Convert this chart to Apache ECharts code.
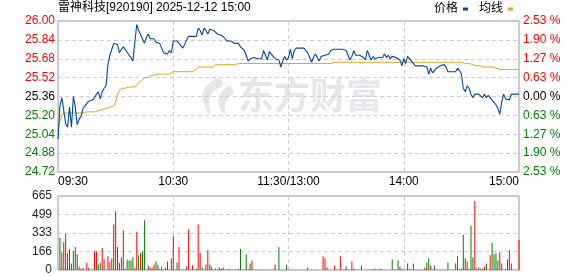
<!DOCTYPE html>
<html><head><meta charset="utf-8">
<script src="https://cdn.jsdelivr.net/npm/echarts@6/dist/echarts.min.js"></script>
<style>html,body{margin:0;padding:0;background:#fff}#c{width:578px;height:276px}</style>
</head><body><div id="c"></div>
<script>
const titleText = '雷神科技[920190] 2025-12-12 15:00';
const legendNames = ['价格', '均线'];
const watermarkText = '东方财富';
const priceTickLabels = ['24.72','24.88','25.04','25.20','25.36','25.52','25.68','25.84','26.00'];
const pctTickLabels = ['2.53 %','1.90 %','1.27 %','0.63 %','0.00 %','0.63 %','1.27 %','1.90 %','2.53 %'];
const volTickLabels = ['0','166','333','499','665'];
const timeTickLabels = ['09:30', '10:30', '11:30/13:00', '14:00', '15:00'];

const price = [
25.00,25.28,25.35,25.36,25.13,25.10,25.27,25.10,25.36,25.27,
25.12,25.17,25.19,25.26,25.28,25.29,25.32,25.33,25.33,25.35,
25.38,25.40,25.34,25.40,25.43,25.45,25.63,25.71,25.71,25.81,
25.81,25.80,25.73,25.76,25.78,25.76,25.75,25.71,25.69,25.66,
25.82,25.97,25.92,25.92,25.85,25.81,25.86,25.89,25.85,25.85,
25.85,25.82,25.81,25.81,25.80,25.73,25.73,25.72,25.75,25.73,
25.83,25.83,25.83,25.81,25.81,25.77,25.76,25.84,25.87,25.87,
25.87,25.87,25.87,25.94,25.92,25.88,25.94,25.92,25.89,25.93,
25.93,25.92,25.91,25.89,25.90,25.88,25.87,25.85,25.83,25.84,
25.83,25.82,25.81,25.81,25.81,25.78,25.77,25.75,25.71,25.66,
25.68,25.69,25.69,25.69,25.68,25.67,25.68,25.75,25.71,25.67,
25.74,25.73,25.70,25.68,25.69,25.67,25.61,25.66,25.70,25.67,
25.69,25.76,25.68,25.75,25.77,25.77,25.77,25.77,25.77,25.75,
25.73,25.72,25.65,25.69,25.72,25.73,25.66,25.70,25.71,25.71,
25.71,25.72,25.75,25.74,25.76,25.76,25.76,25.75,25.76,25.75,
25.75,25.71,25.67,25.70,25.75,25.71,25.72,25.71,25.70,25.69,
25.67,25.75,25.71,25.67,25.70,25.68,25.69,25.69,25.70,25.69,
25.72,25.69,25.71,25.68,25.70,25.70,25.69,25.69,25.67,25.62,
25.68,25.64,25.70,25.69,25.66,25.64,25.62,25.62,25.62,25.62,
25.62,25.62,25.61,25.55,25.60,25.56,25.55,25.60,25.61,25.62,
25.61,25.63,25.61,25.57,25.57,25.57,25.57,25.57,25.60,25.58,
25.55,25.43,25.40,25.45,25.43,25.38,25.35,25.38,25.38,25.38,
25.38,25.35,25.38,25.35,25.37,25.38,25.33,25.31,25.29,25.26,
25.21,25.31,25.38,25.34,25.34,25.33,25.38,25.38,25.38,25.38,
25.38
];

const avgPrice = [
25.07,25.15,25.20,25.22,25.22,25.22,25.22,25.22,25.22,25.22,
25.22,25.22,25.22,25.22,25.22,25.23,25.23,25.23,25.23,25.23,
25.24,25.24,25.24,25.25,25.25,25.26,25.26,25.27,25.27,25.28,
25.31,25.38,25.41,25.43,25.43,25.43,25.44,25.44,25.44,25.44,
25.45,25.45,25.48,25.48,25.50,25.52,25.52,25.52,25.54,25.54,
25.54,25.54,25.55,25.55,25.55,25.55,25.55,25.55,25.55,25.56,
25.57,25.57,25.57,25.57,25.57,25.57,25.57,25.57,25.57,25.57,
25.57,25.57,25.59,25.61,25.61,25.61,25.61,25.61,25.61,25.61,
25.61,25.61,25.63,25.63,25.63,25.63,25.63,25.63,25.63,25.63,
25.63,25.63,25.63,25.63,25.64,25.64,25.64,25.64,25.64,25.64,
25.64,25.64,25.64,25.64,25.64,25.64,25.64,25.64,25.64,25.64,
25.64,25.64,25.64,25.64,25.64,25.64,25.64,25.64,25.64,25.64,
25.64,25.64,25.64,25.64,25.64,25.64,25.64,25.64,25.64,25.64,
25.64,25.64,25.64,25.64,25.64,25.64,25.64,25.64,25.64,25.64,
25.64,25.64,25.64,25.65,25.65,25.65,25.65,25.65,25.65,25.65,
25.65,25.65,25.65,25.65,25.65,25.65,25.65,25.65,25.65,25.65,
25.65,25.65,25.65,25.65,25.65,25.65,25.65,25.65,25.65,25.65,
25.65,25.65,25.65,25.65,25.65,25.65,25.65,25.65,25.65,25.65,
25.65,25.65,25.65,25.65,25.65,25.65,25.65,25.65,25.65,25.65,
25.65,25.65,25.65,25.65,25.65,25.65,25.65,25.65,25.65,25.65,
25.65,25.65,25.65,25.65,25.65,25.65,25.65,25.65,25.65,25.65,
25.65,25.64,25.64,25.64,25.64,25.63,25.63,25.63,25.62,25.62,
25.62,25.61,25.61,25.61,25.61,25.61,25.61,25.60,25.60,25.60,
25.59,25.59,25.59,25.59,25.59,25.59,25.59,25.59,25.59,25.59,
25.59
];

const volume = [
0,289,157,252,326,151,188,58,166,206,
141,31,12,18,3,65,18,3,3,169,
169,49,65,197,95,3,123,74,105,409,
529,206,65,114,354,12,95,86,86,114,
18,344,132,151,169,446,3,40,22,22,
49,77,49,12,31,3,22,77,3,105,
307,3,68,206,3,3,3,31,363,3,
40,3,12,409,151,22,3,49,178,49,
31,3,12,3,22,12,22,3,3,12,
3,3,3,3,12,188,3,3,141,12,
58,86,3,3,3,3,3,3,3,3,
0,3,3,49,0,206,0,3,3,49,
3,3,3,3,0,3,3,0,3,3,
22,0,3,3,3,3,0,0,123,105,
22,3,3,3,40,3,3,123,3,3,
31,3,3,77,12,3,3,3,40,0,
3,3,3,3,3,12,3,3,12,3,
3,0,0,3,95,3,3,86,31,12,
3,3,58,12,3,58,3,3,3,3,
0,22,68,105,40,3,40,3,3,3,
3,3,3,68,3,3,3,58,123,3,
12,317,105,77,12,400,114,621,12,22,
12,12,31,58,3,132,243,141,151,86,
160,58,3,12,95,178,58,0,0,0,
271
];

// 1 = up minute (red bar), -1 = down minute (green bar)
const volDir = [
1,-1,1,1,-1,-1,1,-1,1,-1,
-1,1,-1,1,-1,1,1,-1,1,1,
1,-1,-1,1,1,-1,1,1,-1,1,
1,-1,-1,1,1,1,-1,-1,-1,-1,
1,1,-1,1,-1,-1,1,1,-1,1,
1,-1,-1,1,1,-1,1,-1,-1,-1,
1,1,-1,1,1,-1,1,1,1,-1,
1,1,-1,1,1,-1,-1,1,1,-1,
1,-1,-1,-1,1,-1,1,-1,1,-1,
-1,-1,-1,-1,1,-1,1,1,-1,-1,
-1,1,1,1,-1,-1,-1,1,1,1,
1,-1,-1,1,1,-1,1,1,-1,-1,
1,-1,1,1,1,1,1,1,-1,-1,
-1,1,1,1,1,-1,1,1,1,1,
1,1,1,-1,1,-1,1,1,-1,1,
-1,-1,1,1,1,-1,1,1,-1,1,
1,1,1,-1,-1,1,-1,-1,-1,-1,
-1,1,1,1,-1,1,-1,-1,1,1,
1,-1,-1,1,-1,-1,1,1,1,1,
1,1,-1,-1,1,-1,-1,1,1,-1,
-1,-1,-1,-1,1,1,-1,-1,1,-1,
-1,-1,-1,1,1,-1,-1,1,1,1,
1,-1,1,-1,1,1,-1,-1,-1,-1,
1,1,-1,1,-1,1,1,1,1,1,
1
];

const RED = '#ff0000', GREEN = '#008000', BLACK = '#000000';
const PRICE_COLOR = '#0048a0', AVG_COLOR = '#e0a31a';
const GRID_LINE = {color: '#cccccc', type: [4, 3], width: 1};
const FONT = '"Liberation Sans", "Noto Sans CJK SC", sans-serif';
const levelColor = (k) => k > 4 ? RED : (k < 4 ? GREEN : BLACK);
const lastIdx = price.length - 1;

const chart = echarts.init(document.getElementById('c'), null, {renderer: 'canvas'});
const xCommon = {
  type: 'value', min: 0, max: lastIdx, interval: 60,
  axisLine: {show: false}, axisTick: {show: false},
  splitLine: {show: true, showMinLine: false, showMaxLine: false, lineStyle: GRID_LINE}
};
chart.setOption({
  animation: false,
  textStyle: {fontFamily: FONT},
  title: {
    text: titleText, left: 58, top: 2, padding: 0,
    textStyle: {fontSize: 12, fontWeight: 'normal', color: BLACK, fontFamily: FONT}
  },
  legend: {
    data: legendNames, right: 65, top: 3, padding: 0, align: 'right',
    icon: 'rect', itemWidth: 5, itemHeight: 3, itemGap: 11,
    textStyle: {fontSize: 12, color: BLACK, fontFamily: FONT}
  },
  graphic: [
    {
      type: 'polygon', z: 0, silent: true,
      shape: {points: [[217, 78], [203, 92], [205, 106], [210, 115], [209, 102], [213, 92], [223, 84]], smooth: 0.4},
      style: {fill: '#e6e6ea'}
    },
    {
      type: 'polygon', z: 0, silent: true,
      shape: {points: [[229, 86], [219, 97], [220, 108], [225, 114], [225, 104], [229, 97], [234, 93]], smooth: 0.4},
      style: {fill: '#e6e6ea'}
    },
    {
      type: 'text', left: 238, top: 77, z: 0, silent: true,
      style: {text: watermarkText, font: 'bold 36px "Noto Sans CJK SC"', fill: '#e6e6ea'}
    }
  ],
  grid: [
    {left: 58, top: 21, width: 461, height: 151, show: true, borderColor: '#999999', borderWidth: 1, backgroundColor: 'transparent'},
    {left: 58, top: 196, width: 461, height: 74, show: true, borderColor: '#999999', borderWidth: 1, backgroundColor: 'transparent'}
  ],
  xAxis: [
    Object.assign({}, xCommon, {
      gridIndex: 0,
      axisLabel: {
        formatter: (v) => timeTickLabels[Math.round(v / 60)],
        margin: 4, fontSize: 12, color: BLACK, fontFamily: FONT,
        showMinLabel: true, showMaxLabel: true, alignMinLabel: 'left', alignMaxLabel: 'right'
      }
    }),
    Object.assign({}, xCommon, {gridIndex: 1, axisLabel: {show: false}})
  ],
  yAxis: [
    {type: 'value', gridIndex: 0, min: 24.72, max: 26.00, show: false, scale: true},
    {
      type: 'value', gridIndex: 0, min: 0, max: 8, interval: 1, position: 'left',
      axisLine: {show: false}, axisTick: {show: false},
      axisLabel: {
        formatter: (v) => priceTickLabels[Math.round(v)],
        color: (v) => levelColor(Math.round(v)),
        margin: 3, fontSize: 12, fontFamily: FONT
      },
      splitLine: {show: true, showMinLine: false, showMaxLine: false, lineStyle: GRID_LINE}
    },
    {
      type: 'value', gridIndex: 0, min: 0, max: 8, interval: 1, position: 'right',
      axisLine: {show: false}, axisTick: {show: false},
      axisLabel: {
        formatter: (v) => pctTickLabels[Math.round(v)],
        color: (v) => levelColor(Math.round(v)),
        margin: 4, fontSize: 12, fontFamily: FONT
      },
      splitLine: {show: false}
    },
    {
      type: 'value', gridIndex: 1, min: 0, max: 665, interval: 166.25, position: 'left',
      axisLine: {show: false}, axisTick: {show: false},
      axisLabel: {
        formatter: (v) => volTickLabels[Math.round(v / 166.25)],
        color: '#1a1a2e', margin: 6, fontSize: 12, fontFamily: FONT
      },
      splitLine: {show: true, showMinLine: false, showMaxLine: false, lineStyle: GRID_LINE}
    }
  ],
  series: [
    {
      name: legendNames[0], type: 'line', xAxisIndex: 0, yAxisIndex: 0,
      data: price.map((p, i) => [i, p]),
      symbol: 'none', color: PRICE_COLOR, lineStyle: {color: PRICE_COLOR, width: 1.1}, z: 3
    },
    {
      name: legendNames[1], type: 'line', xAxisIndex: 0, yAxisIndex: 0,
      data: avgPrice.map((p, i) => [i, p]),
      symbol: 'none', color: AVG_COLOR, lineStyle: {color: AVG_COLOR, width: 1}, z: 2
    },
    {
      name: 'vol', type: 'bar', xAxisIndex: 1, yAxisIndex: 3, barWidth: 1,
      data: volume.map((v, i) => ({value: [i, v], itemStyle: {color: volDir[i] > 0 ? RED : GREEN}}))
    }
  ]
});
</script>
</body></html>
